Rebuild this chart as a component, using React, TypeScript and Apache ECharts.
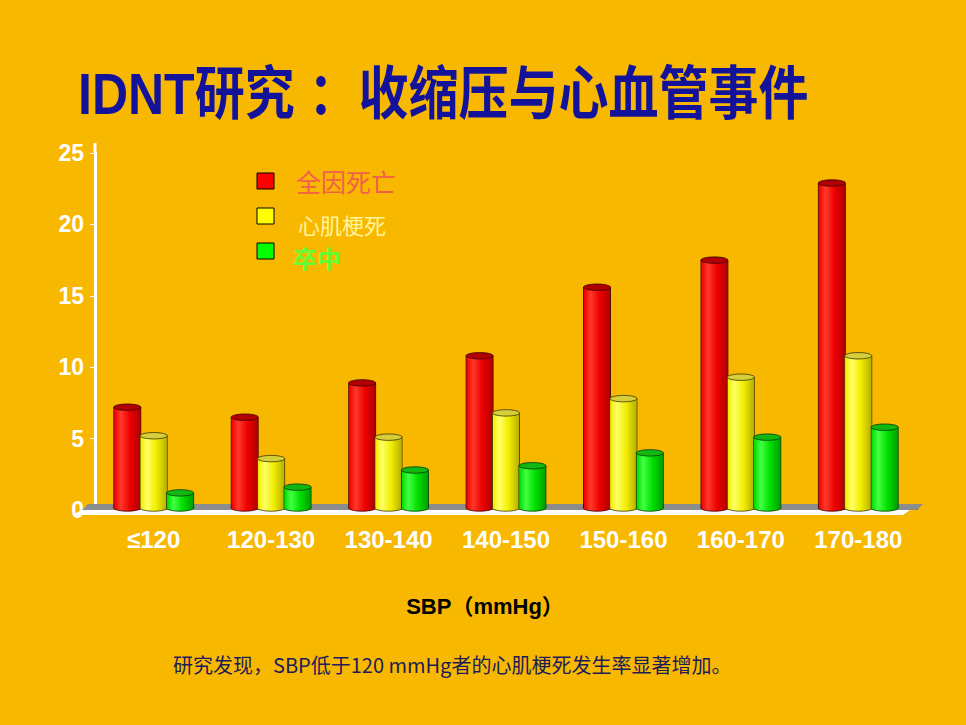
import React, { useEffect, useRef } from "react";
import * as echarts from "echarts";

const categories = ["≤120", "120-130", "130-140", "140-150", "150-160", "160-170", "170-180"];
const allCause = [7.2, 6.5, 8.9, 10.8, 15.6, 17.5, 22.9];
const myocardial = [5.2, 3.6, 5.1, 6.8, 7.8, 9.3, 10.8];
const strokeRate = [1.2, 1.6, 2.8, 3.1, 4.0, 5.1, 5.8];
const yTicks = [0, 5, 10, 15, 20, 25];

const seriesNames = ["全因死亡", "心肌梗死", "卒中"];

const palettes = [
  { light: "#ff3a2a", mid: "#ee0000", dark: "#b00000", top: "#b20000", edge: "#3a0000" },
  { light: "#ffff66", mid: "#f2ee00", dark: "#b8b000", top: "#d6cf3a", edge: "#3a3500" },
  { light: "#44ff44", mid: "#00e000", dark: "#00a000", top: "#12b812", edge: "#003a00" },
];

function makeRender(idx: number) {
  const p = palettes[idx];
  return (params: any, api: any) => {
    const cat = api.value(0);
    const val = api.value(1);
    const band = api.size([1, 0])[0];
    const w = band * 0.23;
    const base = api.coord([cat, 0]);
    const topPt = api.coord([cat, val]);
    const cx = base[0] + (idx - 1) * band * 0.225;
    const x0 = cx - w / 2;
    const ry = 3.2;
    const grad = new echarts.graphic.LinearGradient(0, 0, 1, 0, [
      { offset: 0, color: p.mid },
      { offset: 0.25, color: p.light },
      { offset: 0.6, color: p.mid },
      { offset: 1, color: p.dark },
    ]);
    const bottomY = base[1] - 2;
    return {
      type: "group",
      children: [
        {
          type: "ellipse",
          shape: { cx, cy: bottomY, rx: w / 2, ry },
          style: { fill: grad, stroke: p.edge, lineWidth: 0.8 },
        },
        {
          type: "rect",
          shape: { x: x0, y: topPt[1], width: w, height: bottomY - topPt[1] },
          style: { fill: grad, stroke: p.edge, lineWidth: 0.8 },
        },
        {
          type: "rect",
          shape: { x: x0 + 0.6, y: topPt[1], width: w - 1.2, height: bottomY - topPt[1] + 1 },
          style: { fill: grad },
        },
        {
          type: "ellipse",
          shape: { cx, cy: topPt[1], rx: w / 2, ry },
          style: { fill: p.top, stroke: p.edge, lineWidth: 0.8 },
        },
      ],
    };
  };
}

export default function App() {
  const ref = useRef<HTMLDivElement>(null);
  useEffect(() => {
    document.body.style.margin = "0";
    if (!ref.current) return;
    const chart = echarts.init(ref.current, null, { renderer: "svg" });
    const datasets = [allCause, myocardial, strokeRate];
    const option: any = {
      animation: false,
      backgroundColor: "#f9b800",
      grid: { left: 95, right: 49, top: 153, bottom: 215 },
      xAxis: {
        type: "category",
        data: categories,
        axisLine: { show: false },
        axisTick: { show: true, inside: true, length: 6, lineStyle: { color: "#333", width: 1 } },
        axisLabel: {
          color: "#ffffff",
          fontSize: 24,
          fontWeight: "bold",
          fontFamily: "Liberation Sans, Arial, sans-serif",
          margin: 17,
        },
        splitLine: { show: false },
      },
      yAxis: {
        type: "value",
        min: 0,
        max: 25,
        interval: 5,
        axisLine: { show: true, lineStyle: { color: "#ffffff", width: 3 } },
        axisTick: { show: true, length: 5, lineStyle: { color: "#ffffff", width: 1 } },
        axisLabel: {
          color: "#ffffff",
          fontSize: 23,
          fontWeight: "bold",
          fontFamily: "Liberation Sans, Arial, sans-serif",
          margin: 11,
          formatter: (v: number) => (yTicks.includes(v) ? String(v) : ""),
        },
        splitLine: { show: false },
      },
      graphic: [
        {
          type: "line",
          shape: { x1: 95, y1: 143, x2: 95, y2: 154 },
          style: { stroke: "#ffffff", lineWidth: 3 },
        },
        {
          type: "polygon",
          z: 1,
          shape: { points: [[88, 504], [923, 504], [917, 510], [82, 510]] },
          style: { fill: "#8c8c8c" },
        },
        {
          type: "polygon",
          z: 1,
          shape: { points: [[82, 510], [910, 510], [903, 515], [72, 515]] },
          style: { fill: "#ffffff" },
        },
        {
          type: "text",
          x: 78,
          y: 94,
          scaleY: 1.15,
          originX: 0,
          originY: 0,
          style: {
            text: "IDNT研究 ：收缩压与心血管事件",
            fill: "#12129a",
            font: "bold 50px 'Liberation Sans', 'Noto Sans CJK SC', sans-serif",
            textVerticalAlign: "middle",
          },
        },
        { type: "rect", shape: { x: 257, y: 173, width: 17, height: 16 }, style: { fill: "#ff0000", stroke: "#000", lineWidth: 1 } },
        { type: "rect", shape: { x: 257, y: 208, width: 17, height: 16 }, style: { fill: "#ffff00", stroke: "#000", lineWidth: 1 } },
        { type: "rect", shape: { x: 257, y: 243, width: 17, height: 16 }, style: { fill: "#00ff00", stroke: "#000", lineWidth: 1 } },
        {
          type: "text",
          x: 296,
          y: 181,
          style: { text: seriesNames[0], fill: "#f2604a", font: "25px 'Noto Sans CJK SC', sans-serif", textVerticalAlign: "middle" },
        },
        {
          type: "text",
          x: 298,
          y: 224,
          style: { text: seriesNames[1], fill: "#fff59a", font: "22px 'Noto Sans CJK SC', sans-serif", textVerticalAlign: "middle" },
        },
        {
          type: "text",
          x: 293,
          y: 257,
          style: { text: seriesNames[2], fill: "#66ff33", font: "bold 24px 'Noto Sans CJK SC', sans-serif", textVerticalAlign: "middle" },
        },
        {
          type: "text",
          x: 485,
          y: 606,
          style: {
            text: "SBP（mmHg）",
            fill: "#000000",
            font: "bold 22px 'Liberation Sans', 'Noto Sans CJK SC', sans-serif",
            textAlign: "center",
            textVerticalAlign: "middle",
          },
        },
        {
          type: "text",
          x: 173,
          y: 664,
          style: {
            text: "研究发现，SBP低于120 mmHg者的心肌梗死发生率显著增加。",
            fill: "#1c1c5a",
            font: "20px 'Noto Sans CJK SC', sans-serif",
            textVerticalAlign: "middle",
          },
        },
      ],
      series: datasets.map((arr, idx) => ({
        type: "custom",
        name: seriesNames[idx],
        z: 3,
        renderItem: makeRender(idx),
        encode: { x: 0, y: 1 },
        data: arr.map((v, i) => [i, v]),
      })),
    };
    chart.setOption(option);
    return () => chart.dispose();
  }, []);
  return <div ref={ref} style={{ width: 966, height: 725 }} />;
}
